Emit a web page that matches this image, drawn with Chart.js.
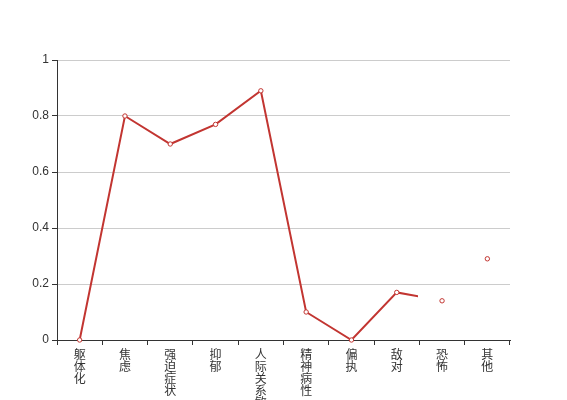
<!DOCTYPE html>
<html><head><meta charset="utf-8">
<script src="https://cdn.jsdelivr.net/npm/chart.js@4/dist/chart.umd.min.js"></script>
<style>html,body{margin:0;padding:0;background:#fff;}canvas{display:block;}</style>
</head><body>
<canvas id="c" width="567" height="400"></canvas>
<script>
const categories = ['躯体化','焦虑','强迫症状','抑郁','人际关系敏感','精神病性','偏执','敌对','恐怖','其他'];
const values = [0, 0.8, 0.7, 0.77, 0.89, 0.1, 0, 0.17, 0.14, 0.29];
const yTicks = [0, 0.2, 0.4, 0.6, 0.8, 1];

const labels = categories.map(s => s.split(''));
const red = '#c23531';
const font = {family: '"Noto Sans CJK SC", "DejaVu Sans", sans-serif', size: 12, lineHeight: 1.0};

new Chart(document.getElementById('c'), {
  type: 'line',
  data: {
    labels: labels,
    datasets: [
      {data: values, order: 1, borderColor: red, borderWidth: 2, pointRadius: 0, fill: false, tension: 0,
       clip: {left: 5, top: 5, right: -92, bottom: 5}},
      {data: values, order: 0, showLine: false, borderColor: red, backgroundColor: '#fff', pointRadius: 2.2,
       pointBorderWidth: 1, pointBackgroundColor: '#fff', pointBorderColor: red, clip: false}
    ]
  },
  options: {
    responsive: false,
    animation: false,
    layout: {padding: {top: 60, right: 57, left: 0, bottom: 0}},
    plugins: {legend: {display: false}, tooltip: {enabled: false}},
    scales: {
      x: {
        offset: true,
        grid: {offset: true, drawOnChartArea: false, tickColor: '#333', tickLength: 5, tickWidth: 1},
        border: {color: '#333', width: 1},
        ticks: {maxRotation: 0, minRotation: 0, autoSkip: false, color: '#333', font: font, padding: 3},
        afterFit: s => { s.height = 60; }
      },
      y: {
        min: 0, max: 1,
        afterBuildTicks: s => { s.ticks = yTicks.map(v => ({value: v})); },
        grid: {color: '#ccc', tickColor: '#333', tickLength: 5},
        border: {color: '#333', width: 1},
        ticks: {color: '#333', font: {family: '"Liberation Sans", Arial, sans-serif', size: 12}, padding: 3,
                callback: v => String(Math.round(v * 10) / 10)},
        afterFit: s => { s.width = 57; }
      }
    }
  }
});
</script>
</body></html>
